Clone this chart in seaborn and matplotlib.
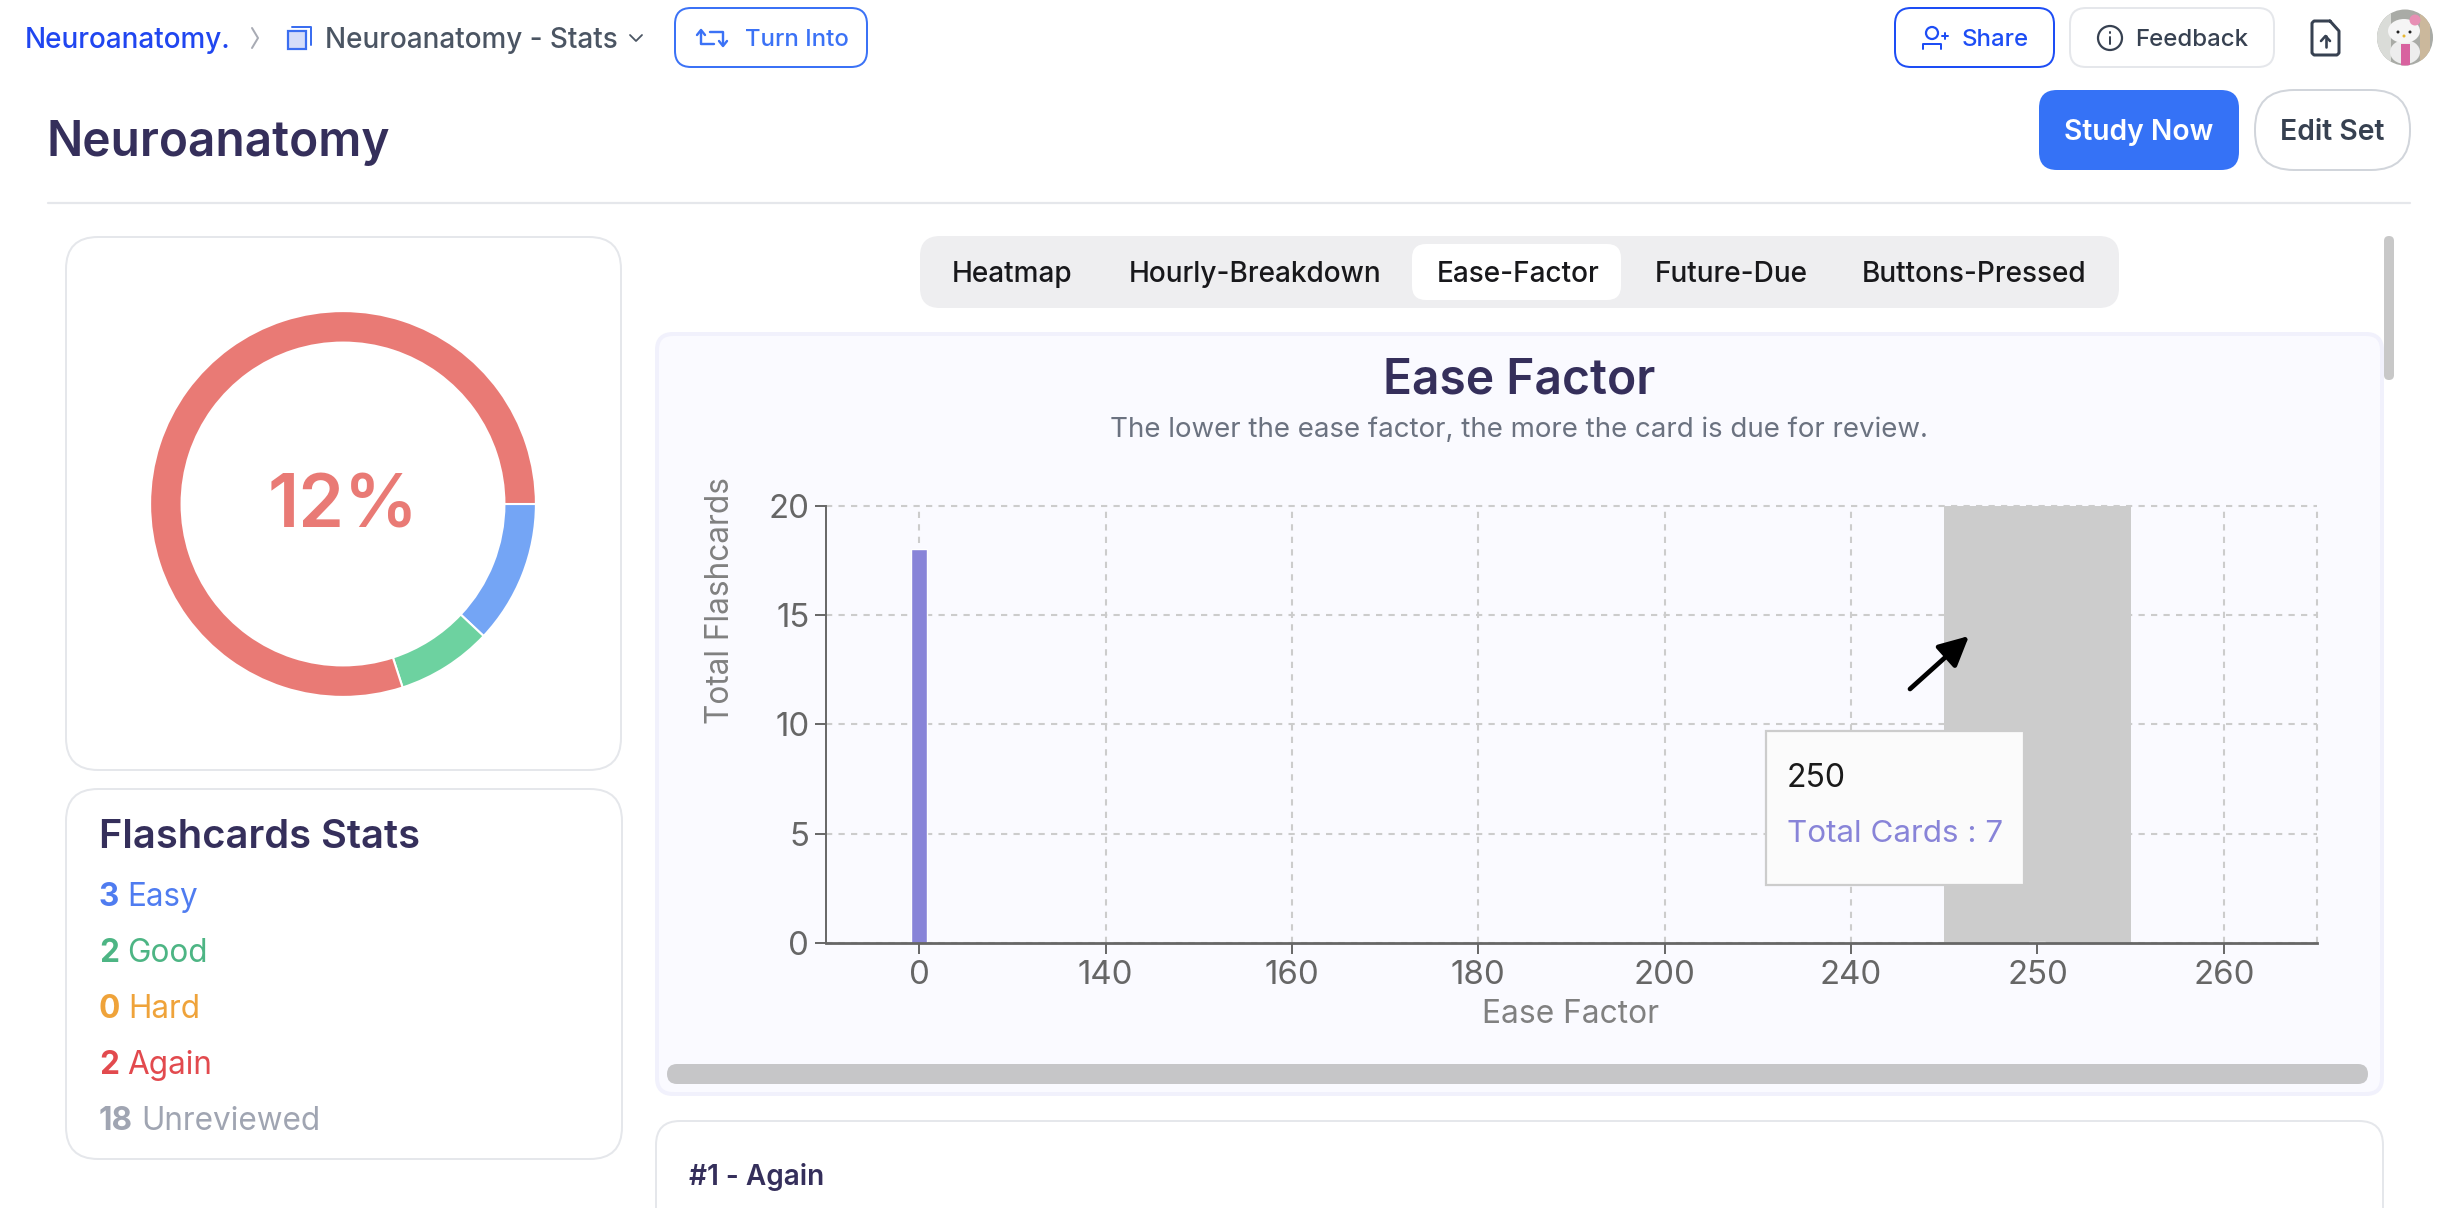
import matplotlib
matplotlib.use('Agg')
import matplotlib.pyplot as plt
import pandas as pd
import seaborn as sns
from matplotlib.patches import FancyBboxPatch, Circle, Rectangle, Ellipse

W, H = 2452, 1208
FONT = ['Inter', 'DejaVu Sans']

# chart data
ease_labels = ['0', '140', '160', '180', '200', '240', '250', '260']
ease_counts = [18, 0, 0, 0, 0, 0, 0.05, 0]
y_ticks = [0, 5, 10, 15, 20]
hover_label = '250'
hover_text = 'Total Cards : 7'

# donut data
donut_values = [3, 2, 20]
donut_colors = ['#74A5F5', '#6DD2A0', '#E97A75']
donut_center = '12%'

# stats panel
stat_numbers = ['3', '2', '0', '2', '18']
stat_names = ['Easy', 'Good', 'Hard', 'Again', 'Unreviewed']
stat_colors = ['#4F7CF0', '#4DB584', '#EFA33A', '#E24A4E', '#A0A5B2']

tab_names = ['Heatmap', 'Hourly-Breakdown', 'Ease-Factor', 'Future-Due', 'Buttons-Pressed']
tab_x = [952, 1129, 1437, 1655, 1862]

NAVY = '#352F5B'
BAR = '#8884D8'

sns.set_theme(style='ticks')
plt.rcParams['font.family'] = FONT


def px(size):
    # font size in screen pixels -> points at dpi 100
    return size * 0.72


def box(ax, x0, y0, x1, y1, r, fc='white', ec='none', lw=0, z=1):
    p = FancyBboxPatch((x0 + r, y0 + r), x1 - x0 - 2 * r, y1 - y0 - 2 * r,
                       boxstyle='round,pad=%f,rounding_size=%f' % (r, r),
                       fc=fc, ec=ec, lw=lw * 0.72, zorder=z)
    ax.add_patch(p)


def label(ax, x, y, s, size, color, weight='normal', ha='left', **kw):
    return ax.text(x, y, s, fontsize=px(size), color=color, fontweight=weight,
                   ha=ha, va='center_baseline', family=FONT, **kw)


def line(ax, xs, ys, color, lw=2.0, z=3):
    ax.plot(xs, ys, color=color, lw=lw * 0.72, solid_capstyle='round', solid_joinstyle='round', zorder=z)


fig = plt.figure(figsize=(W / 100, H / 100), dpi=100, facecolor='white')

# page background layer in pixel coordinates
bg = fig.add_axes([0, 0, 1, 1], zorder=0)
bg.set_xlim(0, W)
bg.set_ylim(H, 0)
bg.axis('off')

# breadcrumb row
label(bg, 25, 38, 'Neuroanatomy.', 27.9, '#2046F0', 'medium')
line(bg, [252, 258, 252], [28, 38, 48], '#A8ABB4', 2)
bg.add_patch(Rectangle((288, 31), 18, 18, fc='#D5DDF9', ec='#3B6EF0', lw=1.6))
line(bg, [292, 311, 311], [27, 27, 45], '#3B6EF0', 2)
label(bg, 325, 38, 'Neuroanatomy - Stats', 27.9, '#4B5563', 'medium')
line(bg, [630, 636, 642], [35, 41, 35], '#4B5563', 1.8)
box(bg, 675, 8, 867, 67, 16, ec='#3B72F6', lw=2)
line(bg, [701, 701, 714], [31, 44, 44], '#3B72F6', 2.4)
line(bg, [697, 701, 705], [35, 30, 35], '#3B72F6', 2.4)
line(bg, [723, 723, 710], [44, 32, 32], '#3B72F6', 2.4)
line(bg, [719, 723, 727], [41, 46, 41], '#3B72F6', 2.4)
label(bg, 745, 38, 'Turn Into', 24, '#3B72F6', 'medium')

box(bg, 1895, 8, 2054, 67, 16, ec='#1D4DF5', lw=2)
bg.add_patch(Circle((1932, 33), 6, fc='none', ec='#1D4DF5', lw=1.6))
line(bg, [1923, 1923, 1941, 1941], [49, 44, 44, 49], '#1D4DF5', 2)
line(bg, [1942, 1948], [36, 36], '#1D4DF5', 2)
line(bg, [1945, 1945], [33, 39], '#1D4DF5', 2)
label(bg, 1962, 38, 'Share', 24, '#1D4DF5', 'medium')
box(bg, 2070, 8, 2274, 67, 16, ec='#E5E7EB', lw=2)
bg.add_patch(Circle((2110, 38), 12, fc='none', ec='#374151', lw=1.6))
line(bg, [2110, 2110], [37, 44], '#374151', 2)
line(bg, [2110, 2110], [32, 32.5], '#374151', 2)
label(bg, 2135, 38, 'Feedback', 24, '#374151', 'medium')

# export icon
line(bg, [2330, 2314, 2312, 2312, 2314, 2337, 2339, 2339, 2330],
     [21, 21, 23, 53, 55, 55, 53, 31, 21], '#374151', 3)
line(bg, [2325.5, 2325.5], [47, 36], '#374151', 2.6)
line(bg, [2321, 2325.5, 2330], [41, 36, 41], '#374151', 2.6)

# avatar, roughly painted
av = Circle((2405, 37.5), 28, fc='#A9ABA6', ec='none', zorder=2)
bg.add_patch(av)
bg.add_patch(Rectangle((2377, 10), 14, 56, fc='#DADCD8', ec='none', zorder=2, clip_path=av))
bg.add_patch(Rectangle((2420, 10), 10, 56, fc='#CBB89C', ec='none', zorder=2, clip_path=av))
bg.add_patch(Ellipse((2405, 52), 30, 24, fc='#EDEDED', ec='none', zorder=3, clip_path=av))
bg.add_patch(Rectangle((2401, 44), 9, 22, fc='#D8629F', ec='none', zorder=4, clip_path=av))
bg.add_patch(Ellipse((2404, 31), 32, 24, fc='#F5F5F5', ec='none', zorder=5))
bg.add_patch(Ellipse((2415, 20), 11, 11, fc='#E78FB4', ec='none', zorder=6))
bg.add_patch(Circle((2398, 32), 1.5, fc='#222222', ec='none', zorder=6))
bg.add_patch(Circle((2410, 32), 1.5, fc='#222222', ec='none', zorder=6))
bg.add_patch(Circle((2404, 36), 1.5, fc='#E8B830', ec='none', zorder=6))

# page heading
label(bg, 47, 138, 'Neuroanatomy', 47.8, NAVY, 'semibold')
box(bg, 2039, 90, 2239, 170, 18, fc='#3572F6')
label(bg, 2139, 130, 'Study Now', 28.2, 'white', 'semibold', ha='center')
box(bg, 2255, 90, 2410, 170, 39, ec='#D1D5DB', lw=2)
label(bg, 2332, 130, 'Edit Set', 28.3, '#374151', 'semibold', ha='center')
bg.plot([48, 2410], [202.5, 202.5], color='#E5E7EB', lw=1.6, zorder=1)

# donut card
box(bg, 66, 237, 621, 770, 32, ec='#E5E7EB', lw=2)
donut = fig.add_axes([(343 - 191) / W, 1 - (504 + 191) / H, 382 / W, 382 / H], zorder=1)
donut.pie(donut_values, colors=donut_colors, startangle=0, counterclock=False, radius=1.01,
          wedgeprops=dict(width=31.5 / 191, edgecolor='white', linewidth=1.5))
donut.set_xlim(-1, 1)
donut.set_ylim(-1, 1)
donut.text(0, 0.02, donut_center, color='#E97A75', fontsize=px(73.6), fontweight='semibold',
           ha='center', va='center_baseline', family=FONT)

# stats card
box(bg, 66, 789, 622, 1159, 32, ec='#E5E7EB', lw=2)
label(bg, 99, 833, 'Flashcards Stats', 39.9, NAVY, 'semibold')
for i, (num, name, col) in enumerate(zip(stat_numbers, stat_names, stat_colors)):
    y = 894 + i * 56
    t = label(bg, 99, y, num, 31.5, col, 'bold')
    fig.canvas.draw()
    end = t.get_window_extent().x1
    label(bg, end + 8, y, name, 31.5, col)

# tab bar
box(bg, 920, 236, 2119, 308, 20, fc='#EEEEF0')
box(bg, 1412, 244, 1621, 300, 14, fc='white')
for name, x in zip(tab_names, tab_x):
    label(bg, x, 272, name, 28, '#18181B', 'medium')

# chart card, scrollbars, next card
box(bg, 657, 334, 2382, 1094, 16, fc='#FAFAFF', ec='#F1F1FC', lw=4)
box(bg, 2384, 236, 2394, 380, 5, fc='#C8C8C8', z=2)
box(bg, 667, 1064, 2368, 1084, 10, fc='#C6C6C8', z=2)
label(bg, 1519, 375, 'Ease Factor', 48, NAVY, 'semibold', ha='center')
label(bg, 1519, 427, 'The lower the ease factor, the more the card is due for review.', 27.7, '#6B7280', ha='center')
box(bg, 656, 1121, 2383, 1300, 24, ec='#E5E7EB', lw=2)
label(bg, 689, 1174, '#1 - Again', 28, NAVY, 'semibold')

# the chart itself
AX_L, AX_R, AX_T, AX_B = 826, 2317, 505.5, 943
ax = fig.add_axes([AX_L / W, 1 - AX_B / H, (AX_R - AX_L) / W, (AX_B - AX_T) / H], zorder=2)
ax.patch.set_alpha(0)

df = pd.DataFrame({'ease': ease_labels, 'cards': ease_counts})
sns.barplot(data=df, x='ease', y='cards', order=ease_labels, color=BAR, saturation=1,
            width=0.086, errorbar=None, ax=ax, zorder=3)

hover_i = ease_labels.index(hover_label)
ax.axvspan(hover_i - 0.5, hover_i + 0.5, color='#CCCCCC', lw=0, zorder=1.5)

ax.set_xlim(-0.5, len(ease_labels) - 0.5)
ax.set_ylim(0, 20)
ax.set_yticks(y_ticks)
ax.set_axisbelow(True)
ax.grid(True, color='#CCCCCC', lw=1.5, dashes=(3, 3), zorder=1)
ax.axvline(len(ease_labels) - 0.5, color='#CCCCCC', lw=1.5, dashes=(3, 3), zorder=1, clip_on=False)
for g in ax.get_ygridlines() + ax.get_xgridlines():
    g.set_clip_on(False)
sns.despine(ax=ax)
for s in ['left', 'bottom']:
    ax.spines[s].set_color('#666666')
    ax.spines[s].set_zorder(4)
ax.spines['left'].set_linewidth(1.4)
ax.spines['bottom'].set_linewidth(2.0)
ax.tick_params(axis='both', length=8, width=1.4, color='#666666', labelcolor='#666666',
               labelsize=px(33), pad=4)
ax.set_xlabel('')
ax.set_ylabel('')

# overlay: axis titles, tooltip, pointer
fg = fig.add_axes([0, 0, 1, 1], zorder=3)
fg.set_xlim(0, W)
fg.set_ylim(H, 0)
fg.axis('off')
fg.patch.set_alpha(0)
label(fg, 717, 601, 'Total Flashcards', 31.6, '#808080', ha='center', rotation=90, rotation_mode='anchor')
label(fg, 1571, 1011, 'Ease Factor', 31.7, '#808080', ha='center')
fg.add_patch(Rectangle((1766, 731), 258, 154, fc='#FBFBFB', ec='#CCCCCC', lw=1.6, zorder=2))
label(fg, 1787, 775, hover_label, 32, '#1A1A1A').set_zorder(3)
label(fg, 1787, 831, hover_text, 31.4, BAR).set_zorder(3)
fg.annotate('', xy=(1969, 636), xytext=(1910, 689),
            arrowprops=dict(arrowstyle='-|>,head_length=1.5,head_width=0.75', color='black',
                            lw=3.4, shrinkA=0, shrinkB=0), zorder=4)

fig.savefig('out.png', dpi=100, facecolor='white')
